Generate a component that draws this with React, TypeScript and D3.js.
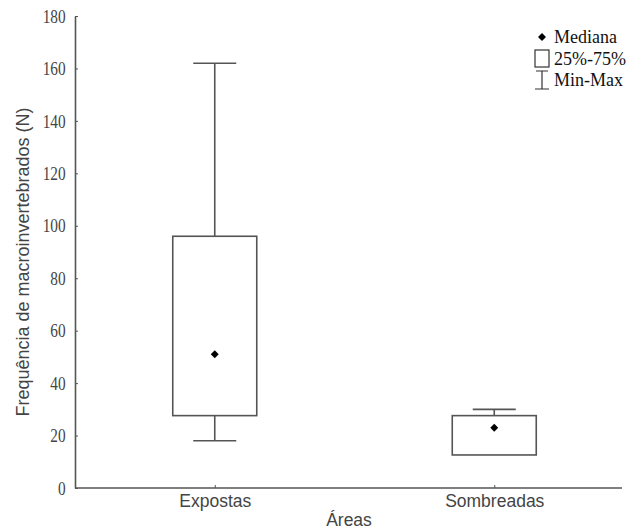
import React, {useEffect, useRef} from 'react';
import * as d3 from 'd3';

const categories = ['Expostas', 'Sombreadas'];
const minValues = [18, 13];
const q1Values = [27.6, 12.6];
const medianValues = [51, 23];
const q3Values = [96, 27.6];
const maxValues = [162, 30];
const yTicks = [0, 20, 40, 60, 80, 100, 120, 140, 160, 180];

const legendItems = ['Mediana', '25%-75%', 'Min-Max'];

const App = () => {
  const svgRef = useRef<SVGSVGElement>(null);

  useEffect(() => {
    const svg = d3.select(svgRef.current);
    svg.selectAll('*').remove();

    const width = 626;
    const height = 531;
    const left = 75;
    const lineColor = '#555';
    const sans = 'Liberation Sans, Arial, sans-serif';
    const serif = 'Liberation Serif, Times New Roman, serif';

    const y = d3.scaleLinear().domain([0, 180]).range([488, 16]);
    const x = d3.scalePoint().domain(categories).range([left, 634]).padding(0.5);

    svg.attr('width', width).attr('height', height);

    // y axis
    const yAxis = svg
      .append('g')
      .attr('transform', `translate(${left},0)`)
      .call(d3.axisLeft(y).tickValues(yTicks).tickSizeInner(-3).tickSizeOuter(0).tickPadding(0));
    yAxis.select('.domain').attr('stroke', lineColor).attr('stroke-width', 1.6);
    yAxis.selectAll('.tick line').attr('stroke', lineColor);
    yAxis
      .selectAll('.tick text')
      .attr('x', -11)
      .attr('dy', '0.34em')
      .attr('transform', 'scale(0.85,1)')
      .attr('fill', '#444')
      .style('font-family', serif)
      .style('font-size', '18px');

    // x axis
    const xAxis = svg
      .append('g')
      .attr('transform', `translate(0,${y(0)})`)
      .call(d3.axisBottom(x).tickSizeInner(-3).tickSizeOuter(0).tickPadding(7));
    xAxis.select('.domain').attr('d', `M${left},0H622`).attr('stroke', lineColor).attr('stroke-width', 1.6);
    xAxis.selectAll('.tick line').attr('stroke', lineColor);
    xAxis
      .selectAll('.tick text')
      .attr('fill', '#444')
      .style('font-family', sans)
      .style('font-size', '17.5px');

    // axis titles
    svg
      .append('text')
      .attr('transform', `translate(29,262) rotate(-90)`)
      .attr('text-anchor', 'middle')
      .attr('fill', '#444')
      .style('font-family', sans)
      .style('font-size', '18px')
      .text('Frequência de macroinvertebrados (N)');

    svg
      .append('text')
      .attr('x', 349)
      .attr('y', 526)
      .attr('text-anchor', 'middle')
      .attr('fill', '#444')
      .style('font-family', sans)
      .style('font-size', '17.5px')
      .text('Áreas');

    const boxW = 84;
    const capW = 43;

    const g = svg.append('g');
    categories.forEach((c, i) => {
      const cx = x(c) as number;
      // whiskers
      g.append('line')
        .attr('x1', cx).attr('x2', cx)
        .attr('y1', y(maxValues[i])).attr('y2', y(q3Values[i]))
        .attr('stroke', lineColor).attr('stroke-width', 1.6);
      g.append('line')
        .attr('x1', cx).attr('x2', cx)
        .attr('y1', y(q1Values[i])).attr('y2', y(minValues[i]))
        .attr('stroke', lineColor).attr('stroke-width', 1.6);
      g.append('line')
        .attr('x1', cx - capW / 2).attr('x2', cx + capW / 2)
        .attr('y1', y(maxValues[i])).attr('y2', y(maxValues[i]))
        .attr('stroke', lineColor).attr('stroke-width', 1.6);
      if (minValues[i] < q1Values[i]) {
        g.append('line')
          .attr('x1', cx - capW / 2).attr('x2', cx + capW / 2)
          .attr('y1', y(minValues[i])).attr('y2', y(minValues[i]))
          .attr('stroke', lineColor).attr('stroke-width', 1.6);
      }
      // box
      g.append('rect')
        .attr('x', cx - boxW / 2)
        .attr('y', y(q3Values[i]))
        .attr('width', boxW)
        .attr('height', y(q1Values[i]) - y(q3Values[i]))
        .attr('fill', 'white')
        .attr('stroke', lineColor)
        .attr('stroke-width', 1.6);
      // median
      g.append('path')
        .attr('d', d3.symbol(d3.symbolDiamond2, 40)())
        .attr('transform', `translate(${cx},${y(medianValues[i])})`)
        .attr('fill', '#000');
    });

    // legend
    const lg = svg.append('g').attr('transform', 'translate(542,0)');
    lg.append('path')
      .attr('d', d3.symbol(d3.symbolDiamond2, 40)())
      .attr('transform', 'translate(0,37)')
      .attr('fill', '#000');
    lg.append('rect')
      .attr('x', -7).attr('y', 50).attr('width', 14).attr('height', 17)
      .attr('fill', 'white').attr('stroke', '#333').attr('stroke-width', 1.2);
    lg.append('path')
      .attr('d', 'M-6,71H6M0,71V89M-7,89H7')
      .attr('fill', 'none').attr('stroke', '#333').attr('stroke-width', 1.2);
    legendItems.forEach((t, i) => {
      lg.append('text')
        .attr('x', 12)
        .attr('y', 43 + i * 21.5)
        .attr('fill', '#111')
        .style('font-family', serif)
        .style('font-size', '18px')
        .text(t);
    });
  }, []);

  return (
    <div style={{position: 'absolute', left: 0, top: 0, background: 'white'}}>
      <svg ref={svgRef}></svg>
    </div>
  );
};

export default App;
